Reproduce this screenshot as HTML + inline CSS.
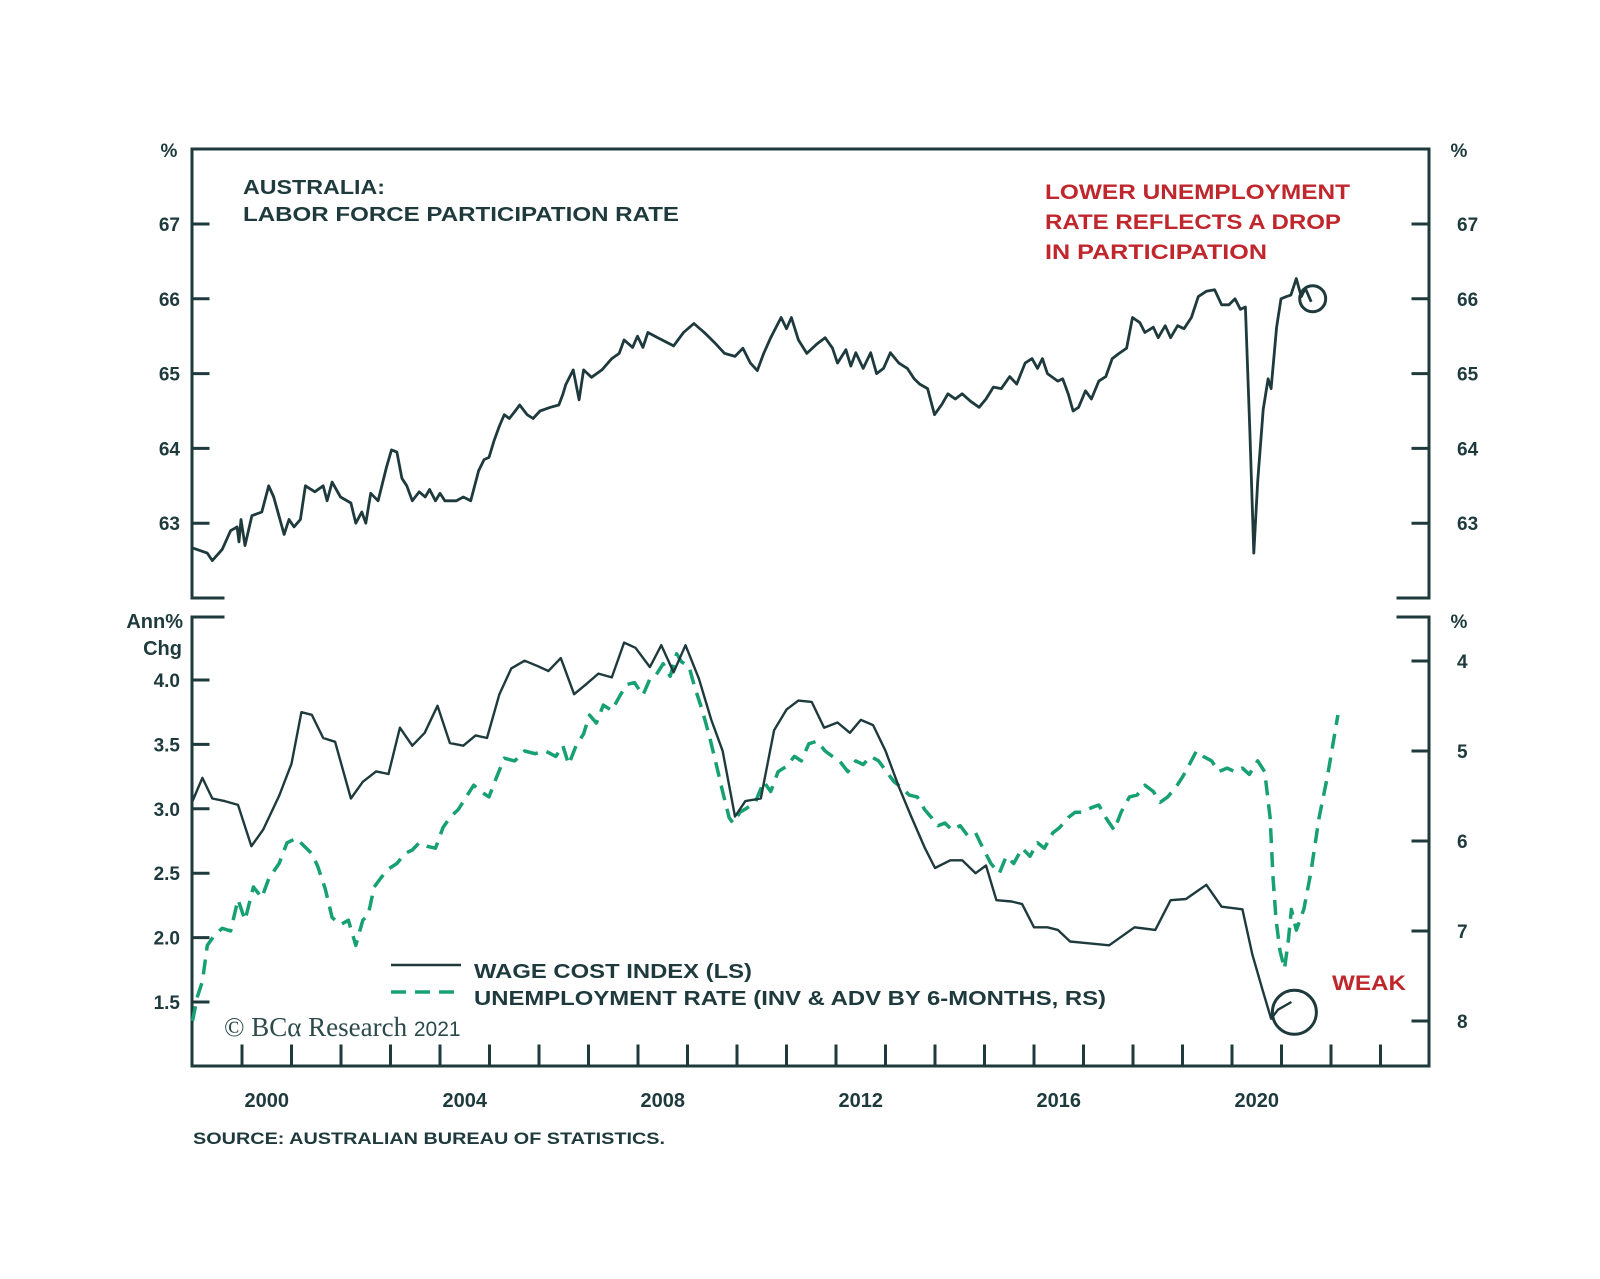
<!DOCTYPE html>
<html><head><meta charset="utf-8"><style>
html,body{margin:0;padding:0;background:#fff;}
svg{display:block;}
text{font-family:"Liberation Sans",Arial,sans-serif;fill:#1e3a3d;}
</style></head><body>
<svg id="chart" width="1600" height="1279" viewBox="0 0 1600 1279" xmlns="http://www.w3.org/2000/svg">
<g id="frame"></g>
<g id="marks"></g>
<g id="labels">
<text x="169" y="157" font-size="19" font-weight="bold" text-anchor="middle">%</text>
<text x="1459" y="157" font-size="19" font-weight="bold" text-anchor="middle">%</text>
<text x="243" y="194" font-size="20" font-weight="bold" textLength="142" lengthAdjust="spacingAndGlyphs">AUSTRALIA:</text>
<text x="243" y="221" font-size="20" font-weight="bold" textLength="436" lengthAdjust="spacingAndGlyphs">LABOR FORCE PARTICIPATION RATE</text>
<text x="1045" y="199" font-size="21" font-weight="bold" style="fill:#c0272d" textLength="305" lengthAdjust="spacingAndGlyphs">LOWER UNEMPLOYMENT</text>
<text x="1045" y="229" font-size="21" font-weight="bold" style="fill:#c0272d" textLength="296" lengthAdjust="spacingAndGlyphs">RATE REFLECTS A DROP</text>
<text x="1045" y="259" font-size="21" font-weight="bold" style="fill:#c0272d" textLength="222" lengthAdjust="spacingAndGlyphs">IN PARTICIPATION</text>
<text x="183" y="628" font-size="20" font-weight="bold" text-anchor="end">Ann%</text>
<text x="182" y="655" font-size="20" font-weight="bold" text-anchor="end">Chg</text>
<text x="1459" y="628" font-size="19" font-weight="bold" text-anchor="middle">%</text>
<line x1="391" y1="965" x2="461" y2="965" stroke="#1e3a3d" stroke-width="2.5"/>
<text x="474" y="978" font-size="20" font-weight="bold" textLength="278" lengthAdjust="spacingAndGlyphs">WAGE COST INDEX (LS)</text>
<line x1="391" y1="992" x2="461" y2="992" stroke="#17a071" stroke-width="3.5" stroke-dasharray="15,9"/>
<text x="474" y="1005" font-size="20" font-weight="bold" textLength="632" lengthAdjust="spacingAndGlyphs">UNEMPLOYMENT RATE (INV &amp; ADV BY 6-MONTHS, RS)</text>
<text x="224" y="1036" font-size="27" style="font-family:'Liberation Serif',serif;fill:#2c4a4c">© BCα Research <tspan style="font-family:'Liberation Sans',sans-serif" font-size="21">2021</tspan></text>
<text x="1332" y="990" font-size="21" font-weight="bold" style="fill:#c0272d" textLength="74" lengthAdjust="spacingAndGlyphs">WEAK</text>
<text x="193" y="1144" font-size="17" font-weight="bold" textLength="472" lengthAdjust="spacingAndGlyphs">SOURCE: AUSTRALIAN BUREAU OF STATISTICS.</text>
</g>
</svg>
<script>
// ---- data ----
const partDates = [1999.0,1999.3,1999.4,1999.6,1999.77,1999.9,1999.94,1999.98,2000.06,2000.2,2000.4,2000.54,2000.64,2000.85,2000.95,2001.05,2001.18,2001.28,2001.47,2001.64,2001.72,2001.82,2001.99,2002.2,2002.3,2002.42,2002.5,2002.6,2002.75,2002.92,2003.02,2003.13,2003.23,2003.33,2003.44,2003.58,2003.7,2003.79,2003.91,2004.0,2004.1,2004.33,2004.47,2004.62,2004.78,2004.89,2004.99,2005.09,2005.2,2005.3,2005.4,2005.52,2005.61,2005.76,2005.88,2006.02,2006.23,2006.4,2006.48,2006.54,2006.69,2006.81,2006.9,2007.06,2007.27,2007.47,2007.62,2007.72,2007.89,2007.99,2008.1,2008.2,2008.4,2008.72,2008.92,2009.13,2009.34,2009.54,2009.75,2009.96,2010.12,2010.27,2010.41,2010.54,2010.68,2010.89,2011.0,2011.1,2011.24,2011.41,2011.62,2011.78,2011.93,2012.03,2012.2,2012.3,2012.4,2012.55,2012.7,2012.82,2012.96,2013.1,2013.27,2013.44,2013.58,2013.69,2013.85,2013.99,2014.14,2014.26,2014.41,2014.55,2014.72,2014.89,2015.03,2015.18,2015.34,2015.51,2015.65,2015.82,2015.96,2016.07,2016.17,2016.27,2016.48,2016.58,2016.69,2016.79,2016.9,2017.04,2017.16,2017.31,2017.45,2017.58,2017.72,2017.87,2017.99,2018.14,2018.24,2018.41,2018.51,2018.65,2018.76,2018.9,2019.03,2019.18,2019.32,2019.48,2019.65,2019.79,2019.94,2020.06,2020.17,2020.27,2020.36,2020.44,2020.52,2020.63,2020.73,2020.79,2020.9,2020.99,2021.1,2021.19,2021.3,2021.4,2021.48,2021.6];
const partValues = [62.67,62.6,62.5,62.65,62.9,62.95,62.75,63.05,62.7,63.1,63.15,63.5,63.35,62.85,63.05,62.95,63.05,63.5,63.42,63.5,63.3,63.55,63.35,63.27,63.0,63.15,63.0,63.4,63.3,63.75,63.98,63.95,63.6,63.5,63.3,63.42,63.35,63.45,63.3,63.4,63.3,63.3,63.35,63.3,63.7,63.85,63.88,64.1,64.3,64.45,64.4,64.5,64.58,64.45,64.4,64.5,64.55,64.58,64.72,64.85,65.05,64.65,65.05,64.95,65.05,65.2,65.27,65.45,65.35,65.5,65.35,65.55,65.48,65.37,65.55,65.67,65.55,65.42,65.27,65.23,65.34,65.14,65.04,65.27,65.48,65.75,65.6,65.75,65.45,65.27,65.4,65.48,65.34,65.14,65.32,65.1,65.28,65.07,65.28,65.0,65.07,65.28,65.14,65.07,64.93,64.86,64.8,64.45,64.59,64.73,64.66,64.73,64.63,64.55,64.66,64.82,64.8,64.96,64.86,65.14,65.2,65.07,65.2,65.0,64.9,64.93,64.73,64.5,64.55,64.77,64.66,64.9,64.96,65.2,65.27,65.34,65.75,65.68,65.55,65.62,65.48,65.64,65.48,65.64,65.6,65.75,66.03,66.1,66.12,65.92,65.92,66.0,65.86,65.89,64.25,62.6,63.56,64.52,64.93,64.8,65.62,66.0,66.03,66.05,66.27,66.03,66.14,65.96];
const wageDates = [1999.0,1999.2,1999.4,1999.65,1999.92,2000.19,2000.43,2000.75,2001.0,2001.2,2001.41,2001.64,2001.88,2002.2,2002.44,2002.71,2002.96,2003.19,2003.44,2003.69,2003.95,2004.2,2004.47,2004.72,2004.95,2005.2,2005.44,2005.71,2005.96,2006.19,2006.44,2006.71,2006.96,2007.2,2007.47,2007.72,2007.95,2008.24,2008.47,2008.72,2008.96,2009.23,2009.48,2009.71,2009.96,2010.17,2010.48,2010.75,2011.0,2011.24,2011.51,2011.76,2012.03,2012.28,2012.5,2012.75,2013.0,2013.27,2013.52,2013.79,2014.0,2014.31,2014.55,2014.82,2015.03,2015.24,2015.55,2015.76,2016.0,2016.27,2016.48,2016.73,2017.0,2017.52,2018.03,2018.45,2018.76,2019.07,2019.48,2019.79,2020.21,2020.41,2020.62,2020.79,2020.93,2021.2];
const wageValues = [3.06,3.24,3.08,3.06,3.03,2.71,2.84,3.1,3.35,3.75,3.73,3.55,3.52,3.08,3.21,3.29,3.27,3.63,3.49,3.59,3.8,3.51,3.49,3.57,3.55,3.89,4.09,4.15,4.11,4.07,4.17,3.89,3.97,4.05,4.02,4.29,4.25,4.1,4.27,4.06,4.27,4.01,3.69,3.45,2.94,3.06,3.08,3.61,3.77,3.84,3.83,3.63,3.67,3.59,3.69,3.65,3.45,3.17,2.94,2.7,2.54,2.6,2.6,2.5,2.56,2.29,2.28,2.26,2.08,2.08,2.06,1.97,1.96,1.94,2.08,2.06,2.29,2.3,2.41,2.24,2.22,1.87,1.59,1.37,1.44,1.5];
const unempDates = [1999.0,1999.1,1999.2,1999.3,1999.44,1999.6,1999.77,1999.92,2000.06,2000.23,2000.4,2000.54,2000.75,2000.91,2001.1,2001.26,2001.41,2001.53,2001.68,2001.82,2001.99,2002.15,2002.3,2002.44,2002.55,2002.67,2002.82,2002.96,2003.13,2003.29,2003.44,2003.58,2003.75,2003.91,2004.06,2004.2,2004.37,2004.53,2004.68,2004.82,2004.99,2005.13,2005.3,2005.51,2005.71,2005.92,2006.13,2006.34,2006.48,2006.6,2006.75,2006.9,2007.02,2007.16,2007.3,2007.47,2007.64,2007.78,2007.93,2008.1,2008.24,2008.37,2008.51,2008.65,2008.78,2008.88,2009.03,2009.13,2009.3,2009.44,2009.59,2009.71,2009.84,2009.92,2010.06,2010.21,2010.37,2010.54,2010.68,2010.83,2011.0,2011.16,2011.3,2011.45,2011.62,2011.78,2011.93,2012.07,2012.24,2012.4,2012.55,2012.7,2012.86,2013.02,2013.17,2013.31,2013.48,2013.64,2013.79,2013.93,2014.06,2014.2,2014.35,2014.51,2014.66,2014.82,2014.97,2015.13,2015.3,2015.44,2015.59,2015.76,2015.92,2016.07,2016.21,2016.38,2016.52,2016.69,2016.83,2017.0,2017.16,2017.31,2017.45,2017.62,2017.76,2017.93,2018.08,2018.24,2018.41,2018.55,2018.7,2018.87,2019.01,2019.14,2019.28,2019.42,2019.59,2019.73,2019.9,2020.06,2020.21,2020.35,2020.52,2020.66,2020.77,2020.83,2020.89,2020.97,2021.06,2021.14,2021.2,2021.3,2021.45,2021.59,2021.76,2021.93,2022.14];
const unempValues = [8.0,7.73,7.56,7.16,7.05,6.97,7.0,6.65,6.88,6.51,6.63,6.42,6.25,6.02,5.97,6.06,6.14,6.28,6.53,6.85,6.93,6.88,7.16,6.88,6.82,6.51,6.4,6.31,6.25,6.14,6.1,6.02,6.06,6.08,5.85,5.74,5.65,5.51,5.38,5.45,5.51,5.31,5.08,5.11,5.0,5.03,5.0,5.06,4.94,5.15,4.94,4.81,4.6,4.69,4.49,4.55,4.38,4.26,4.24,4.38,4.2,4.15,4.03,4.17,3.92,4.01,4.06,4.26,4.55,4.83,5.17,5.45,5.74,5.8,5.68,5.63,5.57,5.34,5.45,5.23,5.17,5.06,5.11,4.92,4.89,5.0,5.06,5.11,5.23,5.11,5.15,5.06,5.11,5.23,5.34,5.4,5.49,5.51,5.65,5.74,5.83,5.8,5.88,5.83,5.94,5.91,6.08,6.25,6.36,6.17,6.25,6.08,6.17,6.02,6.08,5.91,5.85,5.74,5.68,5.68,5.63,5.6,5.74,5.88,5.68,5.51,5.49,5.38,5.45,5.57,5.51,5.4,5.28,5.15,5.0,5.06,5.11,5.23,5.19,5.23,5.19,5.26,5.11,5.23,5.74,6.42,6.88,7.22,7.42,7.1,6.76,6.99,6.76,6.36,5.74,5.28,4.6];
const topTicks = [63,64,65,66,67];
const wageTicks = [1.5,2.0,2.5,3.0,3.5,4.0];
const unempTicks = [4,5,6,7,8];
const yearLabels = [2000,2004,2008,2012,2016,2020];
const yearTicks = [2000,2001,2002,2003,2004,2005,2006,2007,2008,2009,2010,2011,2012,2013,2014,2015,2016,2017,2018,2019,2020,2021,2022,2023];
const circleTop = [2021.63, 66.0];
const circleBottom = [2021.26, 1.42];

// ---- scales ----
const L=192, R=1429, TT=149, TB=598, BT=617, BB=1066;
const x = t => 242 + (t-2000)*49.5;
const yTop = v => 224 + (67-v)*74.8;
const yWage = v => 680 + (4-v)*128.8;
const yUnemp = u => 661 + (u-4)*90;
const NS='http://www.w3.org/2000/svg';
const AX='#1e3a3d';
const frame=document.getElementById('frame'), marks=document.getElementById('marks'), labels=document.getElementById('labels');
function mk(tag, parent, attrs){const e=document.createElementNS(NS,tag);for(const k in attrs)e.setAttribute(k,attrs[k]);parent.appendChild(e);return e;}
function line(x1,y1,x2,y2,w){return mk('line',frame,{x1,y1,x2,y2,stroke:AX,'stroke-width':w||3,'stroke-linecap':'square'});}

let e;
e=line(L,TT,R,TT);  
e=line(L,TT,L,TB);  
e=line(R,TT,R,TB);  
e=line(L,TB,L+31,TB);  
e=line(R-31,TB,R,TB);  
e=line(L,BT,L+31,BT);  
e=line(R-31,BT,R,BT);  
e=line(L,BT,L,BB);  
e=line(R,BT,R,BB);  
e=line(L,BB,R,BB);  

function label(txt,xx,yy,anchor,name,size){const t=mk('text',labels,{x:xx,y:yy,'font-size':size||19,'font-weight':'bold','text-anchor':anchor});t.textContent=txt;

return t;}

topTicks.forEach(v=>{
  e=line(L,yTop(v),L+16,yTop(v),3);  
  e=line(R-16,yTop(v),R,yTop(v),3);  
  label(String(v),180,yTop(v)+7,'end','top-left-tick-label');
  label(String(v),1457,yTop(v)+7,'start','top-right-tick-label');
});
wageTicks.forEach(v=>{
  e=line(L,yWage(v),L+16,yWage(v),3);  
  label(v.toFixed(1),180,yWage(v)+7,'end','left-wage-tick-label');
});
unempTicks.forEach(u=>{
  e=line(R-16,yUnemp(u),R,yUnemp(u),3);  
  label(String(u),1457,yUnemp(u)+7,'start','right-unemployment-tick-label');
});
yearTicks.forEach(t=>{
  e=line(x(t),BB-20,x(t),BB,3);  
});
yearLabels.forEach(t=>{ label(String(t),x(t+0.5),1107,'middle','x-tick-label',20); });

function pathFrom(dates,vals,ys){return dates.map((d,i)=>(i?'L':'M')+x(d).toFixed(1)+','+ys(vals[i]).toFixed(1)).join(' ');}
e=mk('path',marks,{d:pathFrom(partDates,partValues,yTop),fill:'none',stroke:AX,'stroke-width':2.8,'stroke-linejoin':'round'});


e=mk('path',marks,{d:pathFrom(unempDates,unempValues,yUnemp),fill:'none',stroke:'#17a071','stroke-width':3.5,'stroke-dasharray':'15,9','stroke-linejoin':'round'});


e=mk('path',marks,{d:pathFrom(wageDates,wageValues,yWage),fill:'none',stroke:AX,'stroke-width':2.4,'stroke-linejoin':'round'});


e=mk('circle',marks,{cx:x(circleTop[0]),cy:yTop(circleTop[1]),r:13,fill:'none',stroke:AX,'stroke-width':3});


e=mk('circle',marks,{cx:x(circleBottom[0]),cy:yWage(circleBottom[1]),r:22,fill:'none',stroke:AX,'stroke-width':3});


</script>
</body></html>
